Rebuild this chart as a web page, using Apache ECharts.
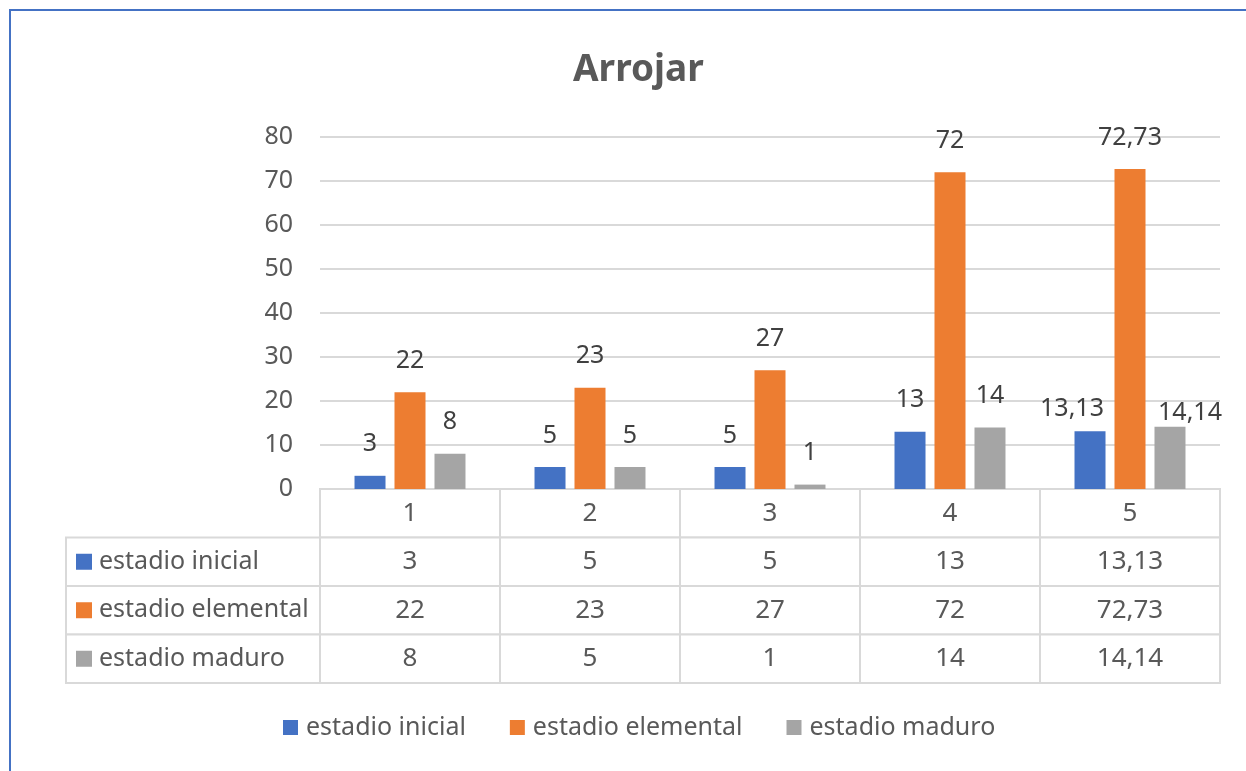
<!DOCTYPE html>
<html>
<head>
<meta charset="utf-8">
<script src="https://cdn.jsdelivr.net/npm/echarts@6/dist/echarts.min.js"></script>
<style>
  html, body { margin: 0; padding: 0; background: #fff; }
  #chart { width: 1246px; height: 771px; }
</style>
</head>
<body>
<div id="chart"></div>
<script>
var categories = ['1', '2', '3', '4', '5'];
var seriesNames = ['estadio inicial', 'estadio elemental', 'estadio maduro'];
var inicial = [3, 5, 5, 13, 13.13];
var elemental = [22, 23, 27, 72, 72.73];
var maduro = [8, 5, 1, 14, 14.14];
var colors = ['#4472C4', '#ED7D31', '#A5A5A5'];
var yTicks = { min: 0, max: 80, interval: 10 };

var font = 'Noto Sans';
var textColor = '#595959';
var lineColor = '#D9D9D9';
var allValues = [inicial, elemental, maduro];
// labels that Excel nudged aside in the last group (series -> [dx, dy])
var labelNudge = { 0: [-18, 9], 2: [20, 18] };

function fmt(v) {
    return String(v).replace('.', ',');
}

// table cells: [col, row, text]; row 0 is the header
var tableCells = [];
for (var c = 0; c < categories.length; c++) {
    tableCells.push([c, 0, categories[c]]);
    for (var r = 0; r < allValues.length; r++) {
        tableCells.push([c, r + 1, fmt(allValues[r][c])]);
    }
}
var rowHeads = [];
for (var i = 0; i < seriesNames.length; i++) {
    rowHeads.push([0, i + 1, seriesNames[i], colors[i]]);
}

var chart = echarts.init(document.getElementById('chart'));

function barSeries(idx, data) {
    var items = data.map(function (v, j) {
        if (j === data.length - 1 && labelNudge[idx]) {
            return { value: v, label: { offset: labelNudge[idx] } };
        }
        return v;
    });
    return {
        name: seriesNames[idx],
        type: 'bar',
        xAxisIndex: 0,
        yAxisIndex: 0,
        data: items,
        barWidth: 31,
        barGap: '29%',
        itemStyle: { color: colors[idx] },
        label: {
            show: true,
            position: 'top',
            distance: 19,
            fontFamily: font,
            fontSize: 25,
            color: '#404040',
            formatter: function (p) { return fmt(p.value); }
        }
    };
}

var option = {
    animation: false,
    backgroundColor: '#fff',
    title: {
        text: 'Arrojar',
        left: 568,
        top: 47,
        textStyle: { fontFamily: font, fontSize: 37, fontWeight: 'bold', color: textColor }
    },
    legend: {
        data: seriesNames,
        bottom: 26,
        left: 278,
        itemWidth: 15,
        itemHeight: 15,
        itemGap: 44,
        icon: 'rect',
        textStyle: { fontFamily: font, fontSize: 25, color: textColor, padding: [0, 0, 0, 3] }
    },
    graphic: [{
        type: 'rect',
        shape: { x: 10, y: 10, width: 1260, height: 800 },
        style: { fill: 'none', stroke: '#4472C4', lineWidth: 2 },
        silent: true
    }],
    grid: [
        { left: 320, right: 26, top: 137, height: 352 },
        { left: 320, right: 26, top: 489, height: 194 }
    ],
    xAxis: [
        {
            type: 'category', gridIndex: 0, data: categories,
            axisLine: { show: false }, axisTick: { show: false }, axisLabel: { show: false }
        },
        {
            type: 'category', gridIndex: 1, data: categories, show: false
        }
    ],
    yAxis: [
        {
            type: 'value', gridIndex: 0,
            min: yTicks.min, max: yTicks.max, interval: yTicks.interval,
            axisLine: { show: false }, axisTick: { show: false },
            axisLabel: { fontFamily: font, fontSize: 25, color: textColor, margin: 27 },
            splitLine: { lineStyle: { color: lineColor, width: 2 } }
        },
        {
            type: 'category', gridIndex: 1, inverse: true,
            data: ['h', 'a', 'b', 'c'], show: false
        }
    ],
    series: [
        barSeries(0, inicial),
        barSeries(1, elemental),
        barSeries(2, maduro),
        {
            type: 'custom',
            xAxisIndex: 1,
            yAxisIndex: 1,
            silent: true,
            data: tableCells,
            renderItem: function (params, api) {
                var pt = api.coord([api.value(0), api.value(1)]);
                var sz = api.size([1, 1]);
                return {
                    type: 'group',
                    children: [{
                        type: 'rect',
                        shape: { x: pt[0] - sz[0] / 2, y: pt[1] - sz[1] / 2, width: sz[0], height: sz[1] },
                        style: { fill: '#fff', stroke: lineColor, lineWidth: 2 }
                    }, {
                        type: 'text',
                        x: pt[0], y: pt[1],
                        style: {
                            text: tableCells[params.dataIndex][2],
                            fontFamily: font, fontSize: 26, fill: textColor,
                            align: 'center', verticalAlign: 'middle'
                        }
                    }]
                };
            }
        },
        {
            type: 'custom',
            xAxisIndex: 1,
            yAxisIndex: 1,
            silent: true,
            data: rowHeads,
            renderItem: function (params, api) {
                var pt = api.coord([api.value(0), api.value(1)]);
                var sz = api.size([1, 1]);
                var left = params.coordSys.x - 254;
                var top = pt[1] - sz[1] / 2;
                var item = rowHeads[params.dataIndex];
                return {
                    type: 'group',
                    children: [{
                        type: 'rect',
                        shape: { x: left, y: top, width: 254, height: sz[1] },
                        style: { fill: '#fff', stroke: lineColor, lineWidth: 2 }
                    }, {
                        type: 'rect',
                        shape: { x: left + 10, y: pt[1] - 8, width: 16, height: 16 },
                        style: { fill: item[3] }
                    }, {
                        type: 'text',
                        x: left + 33, y: pt[1],
                        style: {
                            text: item[2],
                            fontFamily: font, fontSize: 25, fill: textColor,
                            align: 'left', verticalAlign: 'middle'
                        }
                    }]
                };
            }
        }
    ]
};

chart.setOption(option);
</script>
</body>
</html>
